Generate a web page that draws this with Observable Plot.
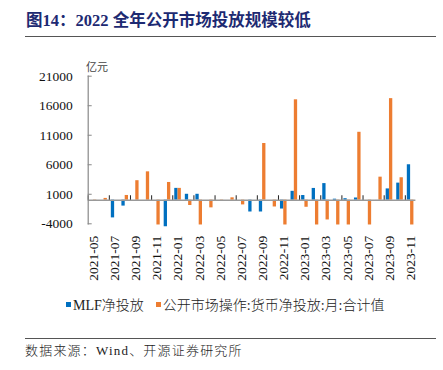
<!DOCTYPE html>
<html><head><meta charset="utf-8">
<script src="https://cdn.jsdelivr.net/npm/d3@7"></script>
<script src="https://cdn.jsdelivr.net/npm/@observablehq/plot@0.6"></script>
<style>
body{margin:0;background:#fff;}
#wrap{position:relative;width:443px;height:370px;overflow:hidden;font-family:"Liberation Serif","Noto Sans CJK SC",serif;color:#222;}
#title{position:absolute;left:26px;top:7px;font-size:16.5px;font-weight:bold;color:#1d2a72;white-space:nowrap;}
.hr{position:absolute;left:25px;width:411px;height:1.4px;background:#555;}
#unit{position:absolute;left:86px;top:58px;font-size:11px;font-family:"Noto Sans CJK SC",sans-serif;color:#444;}
#chart{position:absolute;left:0;top:40px;}
#legend{position:absolute;left:66px;top:294px;font-size:14px;font-weight:300;white-space:nowrap;display:flex;align-items:center;}
#legend .sw{display:inline-block;width:5px;height:5px;margin-right:2px;}
#legend .it{display:flex;align-items:center;margin-right:12px;}
#source{position:absolute;left:25px;top:340px;font-size:13px;font-weight:300;letter-spacing:1.2px;white-space:nowrap;color:#222;}
</style></head><body>
<div id="wrap">
<div id="title">图14：2022 全年公开市场投放规模较低</div>
<div class="hr" style="top:35.5px"></div>
<div id="unit">亿元</div>
<div id="chart"></div>
<div id="legend"></div>
<div class="hr" style="top:338px"></div>
<div id="source">数据来源：Wind、开源证券研究所</div>
</div>
<script>
const months = ["2021-05","2021-06","2021-07","2021-08","2021-09","2021-10","2021-11","2021-12",
"2022-01","2022-02","2022-03","2022-04","2022-05","2022-06","2022-07","2022-08","2022-09","2022-10","2022-11","2022-12",
"2023-01","2023-02","2023-03","2023-04","2023-05","2023-06","2023-07","2023-08","2023-09","2023-10","2023-11"];
const mlfNet = [0,0,-3000,-1000,0,0,0,-4500,
2000,1000,1000,0,0,0,0,-2000,-2000,0,-1500,1500,
790,1990,2810,170,250,370,0,10,1910,2890,6000];
const omoNet = [-200,300,0,800,3300,4800,-4200,3000,
2000,-900,-4200,-1300,-200,400,-800,0,9600,-1150,-4200,17000,
-1200,-4200,-3350,-4200,-4200,11500,-4200,3900,17200,3800,-4200];
const yTicks = [-4000,1000,6000,11000,16000,21000];
const seriesNames = ["MLF净投放","公开市场操作:货币净投放:月:合计值"];
const colors = ["#0070C0","#ED7D31"];

const W = 443, H = 250;
const mL = 87.7, mR = 27.6, mT = 35.7, mB = 66.7;
const bw = (W - mL - mR) / months.length;
const barW = 3.3;
const data = months.map((m,i)=>({month:m, mlf:mlfNet[i], omo:omoNet[i]}));
const labeled = months.filter((m,i)=>i%2===0);

const chart = Plot.plot({
  width: W, height: H,
  marginLeft: mL, marginRight: mR, marginTop: mT, marginBottom: mB,
  style: {fontFamily: "Liberation Serif", fontSize: "13.5px", color: "#111", background: "transparent"},
  x: {type: "band", domain: months, padding: 0, round: false, axis: null},
  y: {domain: [-4000, 21000], axis: null},
  marks: [
    Plot.barY(data, {x: "month", y: "mlf", fill: colors[0], insetLeft: bw/2 - barW, insetRight: bw/2}),
    Plot.barY(data, {x: "month", y: "omo", fill: colors[1], insetLeft: bw/2, insetRight: bw/2 - barW}),
    Plot.ruleY([0], {stroke: "#999", strokeWidth: 1.6}),
    Plot.ruleX(labeled, {x: d=>d, y1: 0, y2: 750, dx: -bw/2, stroke: "#222", strokeWidth: 1}),
    Plot.frame({anchor: "left", stroke: "#888", strokeWidth: 1.2}),
    Plot.axisY({ticks: yTicks, tickSize: -4, tickPadding: 19.5, stroke: "#888", label: null, tickFormat: d=>String(d)}),
    Plot.axisX({ticks: labeled, tickSize: 0, tickRotate: -90, tickPadding: 12, label: null, fontSize: 13.5})
  ]
});
document.getElementById("chart").appendChild(chart);

const lg = document.getElementById("legend");
seriesNames.forEach((n,i)=>{
  const it = document.createElement("span"); it.className="it";
  const sw = document.createElement("span"); sw.className="sw"; sw.style.background=colors[i];
  it.appendChild(sw); it.appendChild(document.createTextNode(n)); lg.appendChild(it);
});
</script>
</body></html>
